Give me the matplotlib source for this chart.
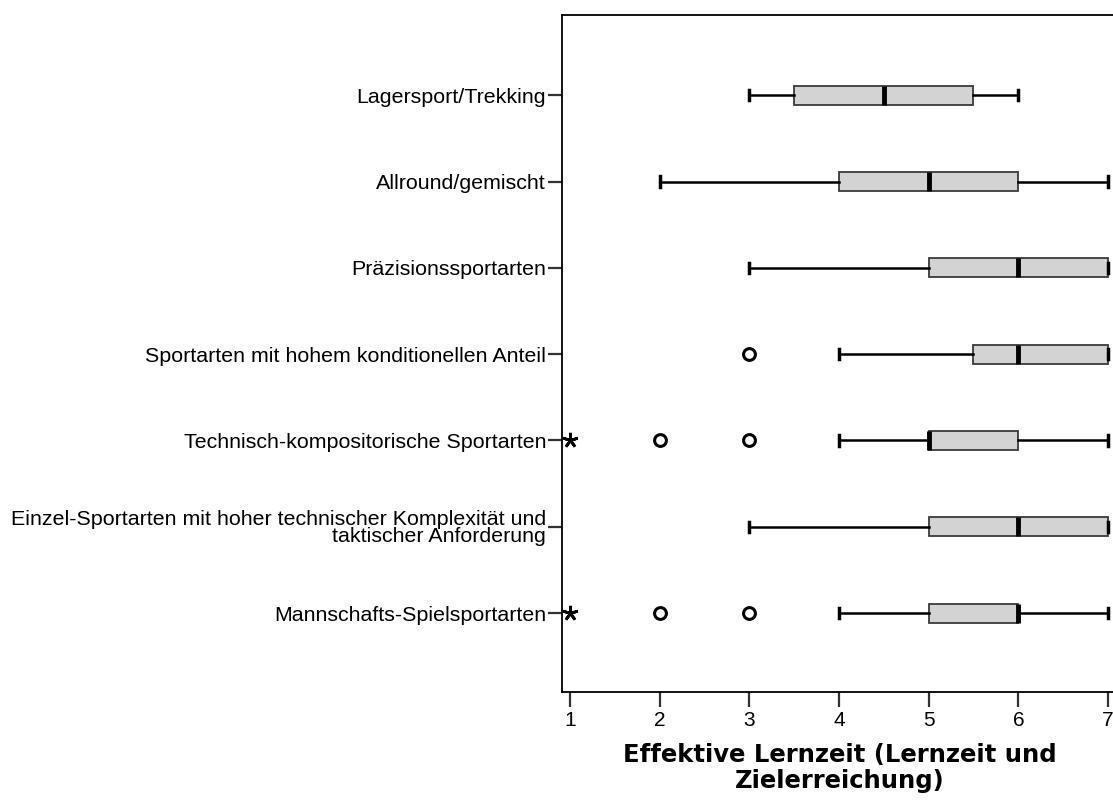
import numpy as np
import matplotlib
matplotlib.use("Agg")
import matplotlib.pyplot as plt

# categories from top to bottom
categories = [
    "Lagersport/Trekking",
    "Allround/gemischt",
    "Präzisionssportarten",
    "Sportarten mit hohem konditionellen Anteil",
    "Technisch-kompositorische Sportarten",
    "Einzel-Sportarten mit hoher technischer Komplexität und\ntaktischer Anforderung",
    "Mannschafts-Spielsportarten",
]
whis_lo = [3, 2, 3, 4, 4, 3, 4]
q1 = [3.5, 4, 5, 5.5, 5, 5, 5]
median = [4.5, 5, 6, 6, 5, 6, 6]
q3 = [5.5, 6, 7, 7, 6, 7, 6]
whis_hi = [6, 7, 7, 7, 7, 7, 7]
outliers = [[], [], [], [3], [2, 3], [], [2, 3]]   # circles
extremes = [[], [], [], [], [1], [], [1]]          # stars

x_ticks = [1, 2, 3, 4, 5, 6, 7]
x_label = "Effektive Lernzeit (Lernzeit und\nZielerreichung)"

plt.rcParams['font.family'] = ['Liberation Sans', 'DejaVu Sans']

fig = plt.figure(figsize=(11.13, 8.10), dpi=100)
ax = fig.add_axes([562 / 1113, 1 - 692 / 810, (1113 - 562) / 1113, (692 - 15) / 810])

pos = np.arange(1, len(categories) + 1)
stats = []
for i in range(len(categories)):
    stats.append({'whislo': whis_lo[i], 'q1': q1[i], 'med': median[i],
                  'q3': q3[i], 'whishi': whis_hi[i], 'fliers': outliers[i]})

ax.bxp(stats, positions=pos, vert=False, widths=0.22, patch_artist=True,
       showfliers=True, capwidths=0.12,
       boxprops=dict(facecolor='#d3d3d3', edgecolor='#3a3a3a', linewidth=1.3),
       medianprops=dict(color='black', linewidth=3.5),
       whiskerprops=dict(color='black', linewidth=1.8),
       capprops=dict(color='black', linewidth=2.5),
       flierprops=dict(marker='o', markerfacecolor='none', markeredgecolor='black',
                       markeredgewidth=2.2, markersize=8.5))

for i, ex in enumerate(extremes):
    for v in ex:
        ax.plot(v, pos[i], marker=(5, 2, 0), color='black', markersize=11,
                markeredgewidth=2, linestyle='none', clip_on=False)

ax.set_ylim(len(categories) + 0.915, 1 - 0.93)
ax.set_xlim(1 - 8 / 89.2, 7 + 5 / 89.2)
ax.set_yticks(pos)
ax.set_yticklabels(categories, fontsize=15.4, linespacing=0.9)
ax.set_xticks(x_ticks)
ax.set_xticklabels([str(t) for t in x_ticks], fontsize=15)
ax.tick_params(axis='y', length=10, width=1.6, color='#333333', pad=1.5)
ax.tick_params(axis='x', length=11, width=1.6, color='#333333', pad=2.5)

for s in ['left', 'bottom', 'top']:
    ax.spines[s].set_linewidth(1.3)
ax.spines['right'].set_visible(False)

ax.set_xlabel(x_label, fontsize=17.5, fontweight='bold', family='DejaVu Sans',
              linespacing=1.13)
ax.xaxis.set_label_coords((840 - 562) / (1113 - 562), -(743 - 692) / 677)
ax.xaxis.label.set_verticalalignment('top')

fig.savefig("out.png", dpi=100)
